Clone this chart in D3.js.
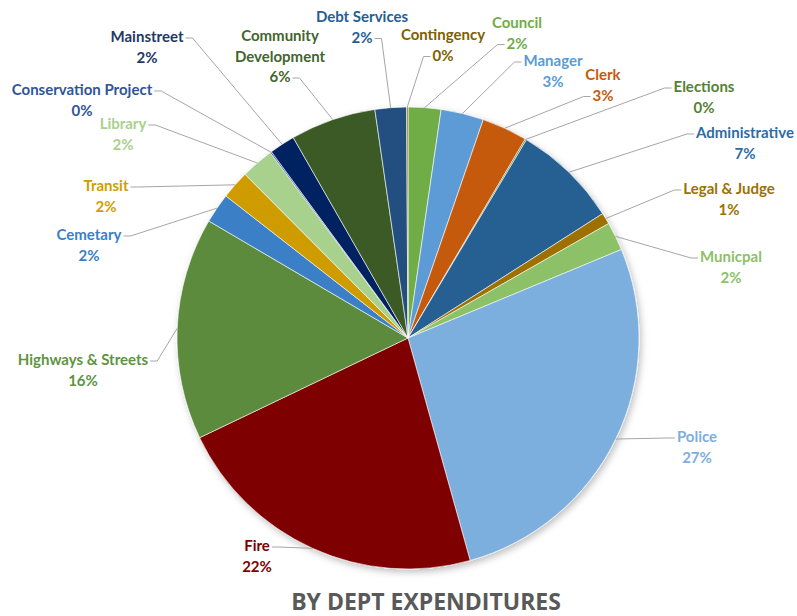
<!DOCTYPE html>
<html>
<head>
<meta charset="utf-8">
<script src="https://cdn.jsdelivr.net/npm/d3@7"></script>
<style>
  html, body { margin: 0; padding: 0; background: #ffffff; }
  svg { display: block; }
  text { font-weight: 700; }
  .lbl { font-family: Lato, "Open Sans", sans-serif; }
  .title { font-family: "Open Sans", "Noto Sans", sans-serif; }
</style>
</head>
<body>
<svg id="chart" width="797" height="616"></svg>
<script>
// Department names, clockwise from twelve o'clock
const departments = [
  "Council", "Manager", "Clerk", "Elections", "Administrative", "Legal & Judge",
  "Municpal", "Police", "Fire", "Highways & Streets", "Cemetary", "Transit",
  "Library", "Conservation Project", "Mainstreet", "Community Development",
  "Debt Services", "Contingency"
];
// Share of total expenditures (percent)
const shares = [
  2.3, 3.0, 3.2, 0.1, 7.4, 0.8,
  2.0, 27.0, 22.3, 15.6, 2.1, 2.0,
  2.3, 0.1, 1.8, 6.0,
  2.2, 0.1
];
// Slice fills
const sliceColors = [
  "#70AD47", "#5B9BD5", "#C55A11", "#548235", "#255E91", "#9E7000",
  "#8CC168", "#7CAFDD", "#7F0000", "#5B8B3C", "#3A80C6", "#CF9C00",
  "#A9D18E", "#2F5597", "#002060", "#3A5A25",
  "#22507F", "#7F6000"
];
// Data-label text colours
const labelColors = [
  "#70AD47", "#5B9BD5", "#C55A11", "#548235", "#2E6BA6", "#997300",
  "#8CC168", "#7CAFDD", "#7F0000", "#5E9441", "#3A80C6", "#D09E00",
  "#A9D18E", "#2F5597", "#1F3864", "#44652C",
  "#255E91", "#7F6000"
];
const chartTitle = "BY DEPT EXPENDITURES";

// Label placement: [centre x, first baseline y, line the leader starts from]
const labelLayout = {
  "Council": [517, 28, 1],
  "Manager": [553, 66, 0],
  "Clerk": [603, 80, 1],
  "Elections": [704, 92, 0],
  "Administrative": [745, 138, 0],
  "Legal & Judge": [729, 194, 0],
  "Municpal": [731, 262, 0],
  "Police": [697, 442, 0],
  "Fire": [257, 551, 0],
  "Highways & Streets": [83, 365, 0],
  "Cemetary": [89, 240, 0],
  "Transit": [106, 191, 0],
  "Library": [123, 129, 0],
  "Conservation Project": [82, 95, 0],
  "Mainstreet": [147, 42, 0],
  "Community Development": [280, 41, 2],
  "Debt Services": [362, 22, 1],
  "Contingency": [443, 40, 1]
};
const lineHeight = 20.5;

const svg = d3.select("#chart");
const cx = 408, cy = 338, radius = 231;

const defs = svg.append("defs");
const shadow = defs.append("filter").attr("id", "pieShadow")
  .attr("x", "-10%").attr("y", "-10%").attr("width", "125%").attr("height", "125%");
shadow.append("feDropShadow")
  .attr("dx", 2).attr("dy", 3).attr("stdDeviation", 3.5)
  .attr("flood-color", "#000").attr("flood-opacity", 0.25);

const rows = departments.map((name, i) => ({
  name, value: shares[i], fill: sliceColors[i], labelColor: labelColors[i]
}));
const total = d3.sum(shares);
const pct = d3.format(".0%");

const pie = d3.pie().sort(null).value(d => d.value).startAngle(0).endAngle(2 * Math.PI);
const arcs = pie(rows);
const arc = d3.arc().innerRadius(0).outerRadius(radius);

const g = svg.append("g").attr("transform", `translate(${cx},${cy})`);
const slices = g.append("g").attr("filter", "url(#pieShadow)");
slices.selectAll("path")
  .data(arcs)
  .join("path")
  .attr("d", arc)
  .attr("fill", d => d.data.fill)
  .attr("stroke", "#ffffff")
  .attr("stroke-width", 0.6);

// Labels and leader lines
const labels = svg.append("g");
const leaders = svg.append("g");
arcs.forEach(a => {
  const [lx, ly, anchorLine] = labelLayout[a.data.name];
  const words = a.data.name === "Community Development"
    ? ["Community", "Development"] : [a.data.name];
  const lines = words.concat([pct(a.data.value / total)]);
  const t = labels.append("text")
    .attr("class", "lbl")
    .attr("text-anchor", "middle")
    .attr("font-size", 15)
    .attr("fill", a.data.labelColor);
  const spans = lines.map((s, k) => t.append("tspan")
    .attr("x", lx).attr("y", ly + k * lineHeight).text(s));

  // rim point at the slice's middle angle
  const mid = (a.startAngle + a.endAngle) / 2;
  const rx = cx + radius * Math.sin(mid);
  const ry = cy - radius * Math.cos(mid);

  const w = spans[anchorLine].node().getComputedTextLength();
  const ay = ly + anchorLine * lineHeight - 4;
  const rightSide = lx > rx;
  const ax = rightSide ? lx - w / 2 - 2 : lx + w / 2 + 2;
  const bx = rightSide ? ax - 7 : ax + 7;
  leaders.append("path")
    .attr("d", `M${ax},${ay}L${bx},${ay}L${rx},${ry}`)
    .attr("fill", "none")
    .attr("stroke", "#a6a6a6")
    .attr("stroke-width", 1);
});

svg.append("text")
  .attr("class", "title")
  .attr("x", 426).attr("y", 610)
  .attr("text-anchor", "middle")
  .attr("font-size", 23)
  .attr("fill", "#595959")
  .text(chartTitle);
</script>
</body>
</html>
